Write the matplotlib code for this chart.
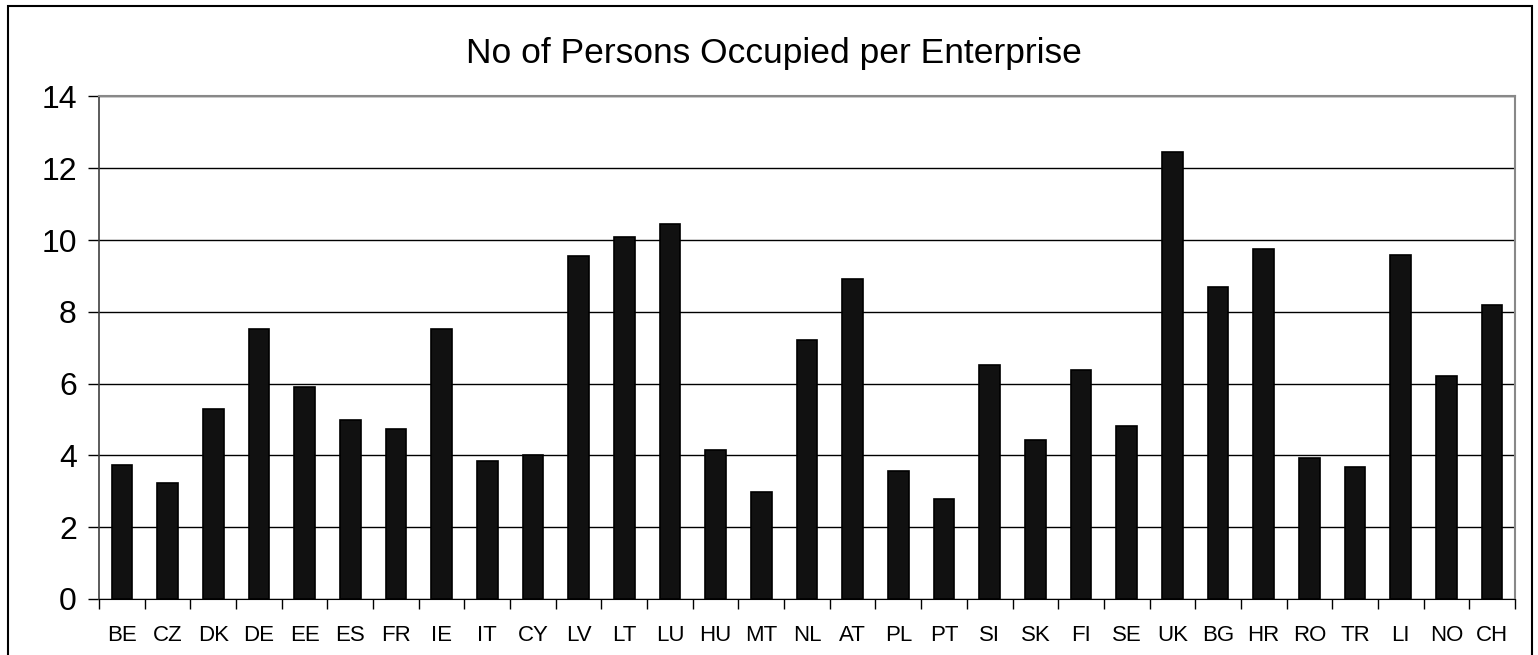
import numpy as np
import matplotlib.pyplot as plt
from matplotlib.patches import Rectangle

countries = ['BE', 'CZ', 'DK', 'DE', 'EE', 'ES', 'FR', 'IE', 'IT', 'CY', 'LV', 'LT', 'LU',
             'HU', 'MT', 'NL', 'AT', 'PL', 'PT', 'SI', 'SK', 'FI', 'SE', 'UK', 'BG', 'HR',
             'RO', 'TR', 'LI', 'NO', 'CH']
persons = [3.72, 3.22, 5.29, 7.53, 5.91, 5.0, 4.75, 7.53, 3.84, 4.02, 9.55, 10.09, 10.45,
           4.16, 2.98, 7.21, 8.91, 3.56, 2.79, 6.51, 4.44, 6.38, 4.83, 12.45, 8.70, 9.74,
           3.92, 3.67, 9.59, 6.21, 8.20]
yticks = [0, 2, 4, 6, 8, 10, 12, 14]

plt.rcParams['font.family'] = ['Liberation Sans', 'DejaVu Sans']

fig = plt.figure(figsize=(15.38, 6.55), dpi=100)
ax = fig.add_axes([0.0644, 0.0855, 0.9206, 0.7672])

x = np.arange(len(countries))
ax.bar(x, persons, width=0.45, color='#111111', edgecolor='black', linewidth=1.2, zorder=3)

ax.set_xlim(-0.5, len(countries) - 0.5)
ax.set_ylim(0, 14)
ax.set_yticks(yticks)
ax.yaxis.grid(True, color='black', linewidth=1.0, zorder=0)

ax.set_xticks(x)
ax.set_xticklabels(countries, fontsize=16)
ax.set_xticks(np.arange(len(countries) + 1) - 0.5, minor=True)
ax.tick_params(axis='x', which='major', length=0, pad=19)
ax.tick_params(axis='x', which='minor', length=7, width=1, direction='out')
ax.tick_params(axis='y', length=8, width=1, labelsize=23, pad=8)

ax.spines['top'].set_color('#888888')
ax.spines['top'].set_linewidth(1.5)
ax.spines['right'].set_color('#888888')
ax.spines['right'].set_linewidth(1.5)
ax.spines['left'].set_color('#404040')
ax.spines['left'].set_linewidth(1.2)
ax.spines['bottom'].set_color('black')

fig.text(0.503, 0.918, 'No of Persons Occupied per Enterprise', ha='center', va='center', fontsize=25.5)

# outer chart frame (cut off at the bottom)
fig.patches.append(Rectangle((8 / 1538, -0.05), 1524 / 1538, 1 - 6 / 655 + 0.05,
                             transform=fig.transFigure, fill=False, edgecolor='black',
                             linewidth=1.5, clip_on=False))

fig.savefig('out.png', dpi=100)
